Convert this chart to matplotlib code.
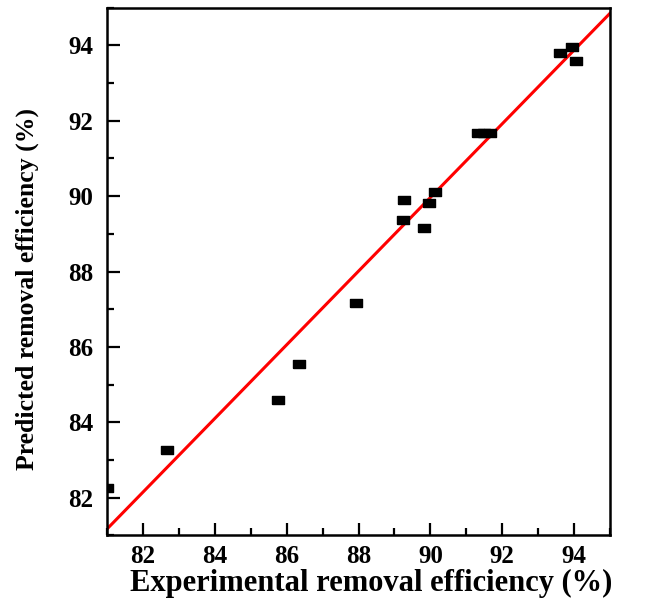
import numpy as np
import matplotlib
matplotlib.use('Agg')
from matplotlib import pyplot as plt
from matplotlib.ticker import MultipleLocator

# experimental vs predicted (%)
experimental = [81.0, 82.67, 85.76, 86.33, 87.94, 89.28, 89.23, 89.95, 90.14, 89.83,
                91.33, 91.5, 91.67, 93.61, 93.95, 94.07]
predicted = [82.26, 83.25, 84.59, 85.55, 87.16, 89.89, 89.38, 89.81, 90.10, 89.15,
             91.68, 91.68, 91.68, 93.80, 93.95, 93.60]

# fitted line end points
line_x = [81.0, 95.0]
line_y = [81.17, 94.85]

ticks = [82, 84, 86, 88, 90, 92, 94]

plt.rcParams['font.family'] = 'Liberation Serif'
plt.rcParams['font.weight'] = 'bold'

fig = plt.figure(figsize=(6.46, 6.02), dpi=100)
ax = fig.add_axes([0.166, 0.111, 0.778, 0.876])

# wide flat square marker, like the original
rect = [(-1, -0.68), (1, -0.68), (1, 0.68), (-1, 0.68), (-1, -0.68)]

ax.plot(line_x, line_y, color='red', lw=2.2, zorder=2)
ax.plot(experimental, predicted, linestyle='none', marker=rect, color='black',
        markersize=9, zorder=3)

ax.set_xlim(81, 95)
ax.set_ylim(81, 95)
ax.xaxis.set_minor_locator(MultipleLocator(1))
ax.yaxis.set_minor_locator(MultipleLocator(1))
ax.set_xticks(ticks)
ax.set_yticks(ticks)

ax.tick_params(which='major', direction='in', length=9, width=1.6, labelsize=18)
ax.tick_params(axis='y', which='major', pad=10)
ax.tick_params(axis='x', which='major', pad=7)
ax.tick_params(which='minor', direction='in', length=5, width=1.6)
for s in ax.spines.values():
    s.set_linewidth(1.8)
for lab in ax.get_xticklabels() + ax.get_yticklabels():
    lab.set_fontweight('bold')

ax.set_xlabel('Experimental removal efficiency (%)', fontsize=22, fontweight='bold', va='center')
ax.set_ylabel('Predicted removal efficiency (%)', fontsize=18.5, fontweight='bold', va='center')
ax.xaxis.set_label_coords(0.525, -0.091)
ax.yaxis.set_label_coords(-0.159, 0.467)

fig.savefig('out.png', dpi=100)
